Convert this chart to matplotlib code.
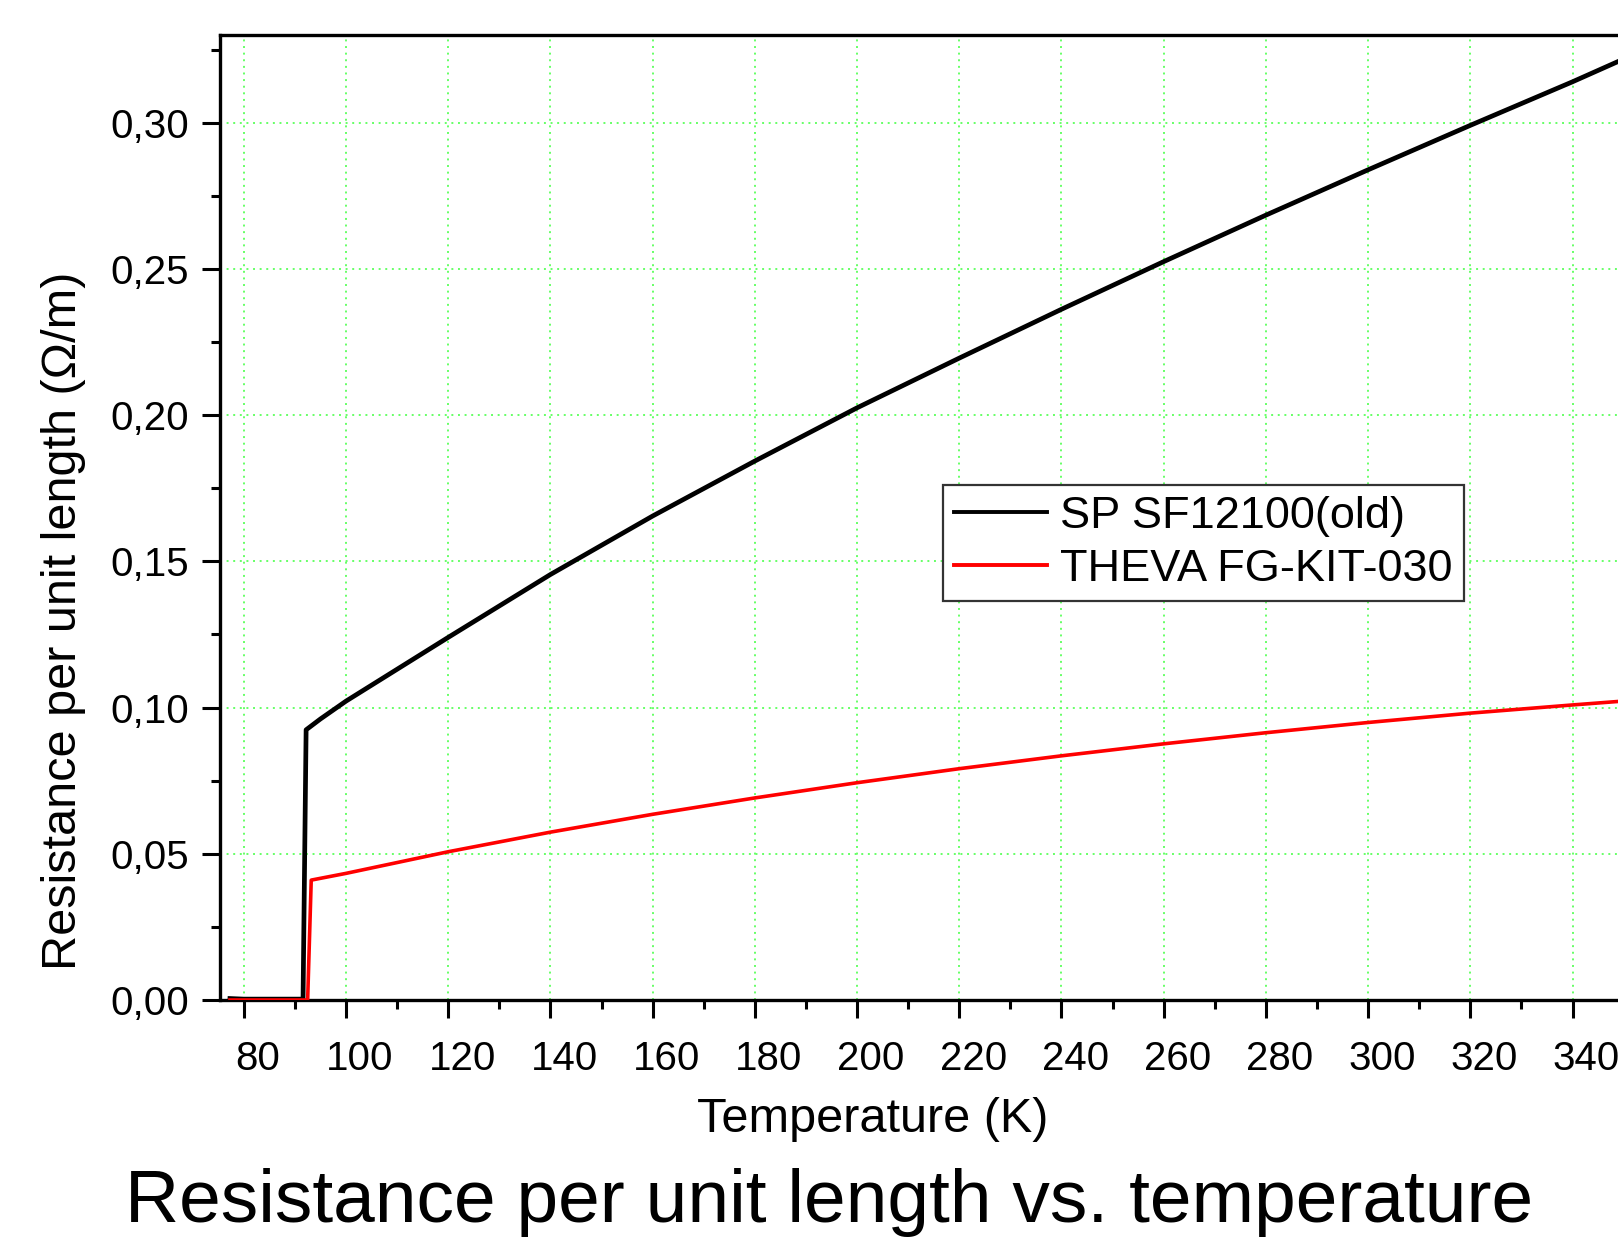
import matplotlib
matplotlib.use("Agg")
import matplotlib.pyplot as plt
from matplotlib.ticker import MultipleLocator, FuncFormatter
from matplotlib.transforms import ScaledTranslation

plt.rcParams['font.family'] = ['Liberation Sans', 'DejaVu Sans']

# ---- data ----
T_sp = [77.3, 80, 85, 90, 91.6, 92.2, 95, 100, 120, 140, 160, 180, 200,
        220, 240, 260, 280, 300, 320, 340, 349]
R_sp = [0.0005, 0.0003, 0.0003, 0.0003, 0.0003, 0.0924, 0.0961, 0.1022,
        0.1240, 0.1455, 0.1655, 0.1843, 0.2025, 0.2195, 0.2362, 0.2525,
        0.2684, 0.2839, 0.2991, 0.3140, 0.3210]

T_th = [77.3, 80, 85, 90, 92.5, 93.2, 100, 120, 140, 160, 180, 200, 220, 240,
        260, 280, 300, 320, 340, 349]
R_th = [0.0, 0.0, 0.0, 0.0, 0.0, 0.0410, 0.0433, 0.0507, 0.0574, 0.0635, 0.0691,
        0.0743, 0.0791, 0.0835, 0.0876, 0.0914, 0.0949, 0.0981, 0.1009, 0.1021]

labels = ["SP SF12100(old)", "THEVA FG-KIT-030"]
colors = ["black", "red"]

W, H = 1618, 1243
fig = plt.figure(figsize=(W / 100, H / 100), dpi=100)
ax = fig.add_axes([220 / W, 243 / H, (W - 220) / W, (1000 - 35) / H])

ax.plot(T_sp, R_sp, color=colors[0], lw=3.4, label=labels[0], zorder=3,
        solid_joinstyle='round')
ax.plot(T_th, R_th, color=colors[1], lw=2.6, label=labels[1], zorder=3,
        solid_joinstyle='round')

ax.set_xlim(75.35, 348.9)
ax.set_ylim(0, 0.330)

ax.xaxis.set_major_locator(MultipleLocator(20))
ax.xaxis.set_minor_locator(MultipleLocator(10))
ax.yaxis.set_major_locator(MultipleLocator(0.05))
ax.yaxis.set_minor_locator(MultipleLocator(0.025))
ax.yaxis.set_major_formatter(FuncFormatter(lambda v, p: f"{v:.2f}".replace('.', ',')))

ax.grid(True, which='major', color='#66ff66', linestyle=(0, (1, 2.4)), lw=1.4, zorder=1)

for s in ['left', 'bottom', 'top']:
    ax.spines[s].set_linewidth(2.4)
ax.spines['right'].set_visible(False)

ax.tick_params(axis='both', which='major', direction='out', length=13, width=2.2,
               labelsize=29)
ax.tick_params(axis='both', which='minor', direction='out', length=6.5, width=2.2)
ax.tick_params(axis='y', which='major', pad=9.5)
ax.tick_params(axis='x', which='major', pad=15.5)

# x tick labels in the reference sit slightly right of their ticks
shift = ScaledTranslation(14 / 100, 0, fig.dpi_scale_trans)
for lab in ax.get_xticklabels():
    lab.set_transform(lab.get_transform() + shift)

fig.text(873 / W, 1 - 1120 / H, "Temperature (K)", fontsize=35,
         ha='center', va='center')
fig.text(64 / W, 1 - 621 / H, "Resistance per unit length (\u03a9/m)", fontsize=35,
         ha='center', va='center', rotation=90)
fig.text(829 / W, 1 - 1222 / H, "Resistance per unit length vs. temperature",
         fontsize=54, ha='center', va='baseline')

leg = ax.legend(loc='upper left', bbox_to_anchor=(943 / W, 1 - 485 / H),
                bbox_transform=fig.transFigure, borderaxespad=0, fontsize=32.5,
                fancybox=False, framealpha=1, edgecolor='#333333',
                handlelength=2.05, handletextpad=0.3, borderpad=0.25,
                labelspacing=0.26)
leg.get_frame().set_linewidth(1.6)
for line in leg.get_lines():
    line.set_linewidth(2.8)

fig.savefig("out.png", dpi=100)
